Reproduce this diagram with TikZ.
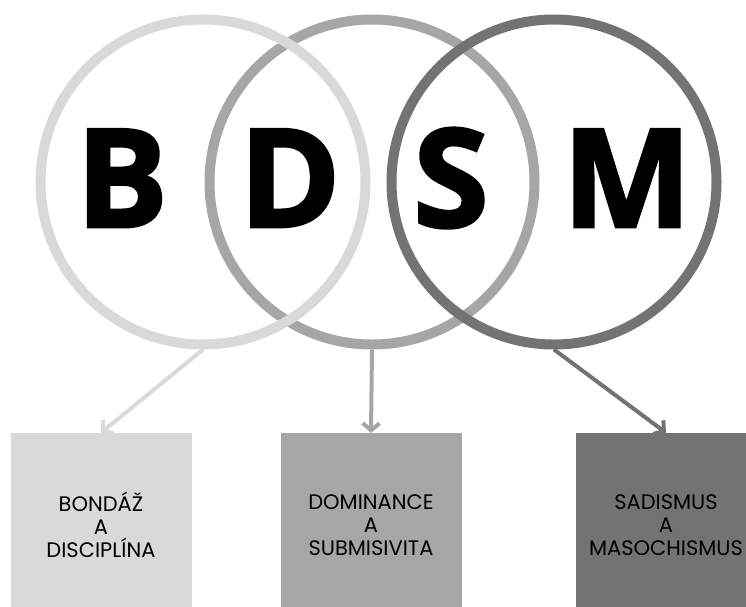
\documentclass[tikz,border=0pt]{standalone}
\usepackage{fontspec}
\usetikzlibrary{arrows.meta}
\newfontfamily\lettersfont{Open Sans}[BoldFeatures={FakeBold=2}]
\newfontfamily\boxfont{Poppins}
\definecolor{lightgrey}{HTML}{D9D9D9}
\definecolor{midgrey}{HTML}{A6A6A6}
\definecolor{darkgrey}{HTML}{737373}

\begin{document}
\begin{tikzpicture}[x=1pt,y=-1pt]
		\tikzstyle{RingStyle}   = [shape=circle, minimum size=325pt, inner sep=0pt, line width=10pt]
		\tikzstyle{LetterStyle} = [anchor=base, inner sep=0pt, font=\lettersfont\bfseries\fontsize{137}{137}\selectfont]
		\tikzstyle{BoxStyle}    = [shape=rectangle, minimum width=181pt, minimum height=184pt, inner sep=0pt, align=center, font=\boxfont\fontsize{21}{23}\selectfont]
		\tikzstyle{EdgeStyle}   = [line width=4pt, -{Straight Barb[length=7pt,width=17pt,line width=4pt]}]

		\useasboundingbox (0,0) rectangle (746,606);

		% rings: the middle one lies under the other two
		\node[RingStyle, draw=midgrey]   (D ring) at (372,182) {};
		\node[RingStyle, draw=lightgrey] (B ring) at (203,182) {};
		\node[RingStyle, draw=darkgrey]  (S ring) at (554,182) {};

		\node[LetterStyle] (B) at (122,227) {B};
		\node[LetterStyle] (D) at (290,227) {D};
		\node[LetterStyle] (S) at (451,227) {S};
		\node[LetterStyle] (M) at (627,227) {M};

		\node[BoxStyle, fill=lightgrey] (Bondage)   at (101,525) {BONDÁŽ\\A\\DISCIPLÍNA};
		\node[BoxStyle, fill=midgrey]   (Dominance) at (371,525) {DOMINANCE\\A\\SUBMISIVITA};
		\node[BoxStyle, fill=darkgrey]  (Sadism)    at (666,525) {SADISMUS\\A\\MASOCHISMUS};

		\draw[EdgeStyle, draw=lightgrey](B ring.south)--(Bondage.north);
		\draw[EdgeStyle, draw=midgrey](D ring.south)--(Dominance.north);
		\draw[EdgeStyle, draw=darkgrey](S ring.south)--(Sadism.north);
	\end{tikzpicture}
\end{document}
